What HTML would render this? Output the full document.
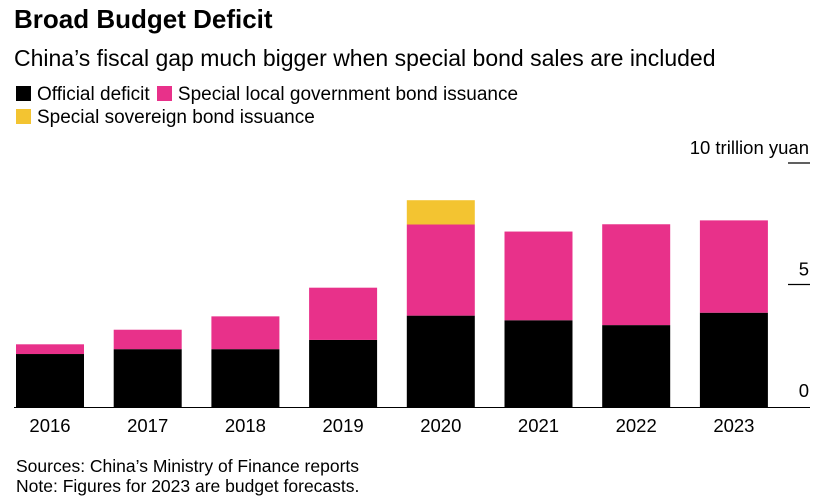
<!DOCTYPE html>
<html><head><meta charset="utf-8"><style>
body{margin:0;background:#fff;width:829px;height:503px;overflow:hidden;font-family:"Liberation Sans",Arial,sans-serif;color:#000}
.t{position:absolute;white-space:nowrap}
.sw{display:inline-block;width:15px;height:15px;vertical-align:-1px;margin-right:6px}
</style></head><body>
<div class="t" style="left:14px;top:4px;font-size:26px;font-weight:bold">Broad Budget Deficit</div>
<div class="t" style="left:14px;top:45px;font-size:23px">China’s fiscal gap much bigger when special bond sales are included</div>
<div class="t" style="left:16px;top:83px;font-size:19px;line-height:23px">
<span><span class="sw" style="background:#000"></span>Official deficit</span>
<span style="margin-left:2px"><span class="sw" style="background:#e8318a"></span>Special local government bond issuance</span><br>
<span><span class="sw" style="background:#f3c431"></span>Special sovereign bond issuance</span></div>
<svg width="829" height="503" style="position:absolute;left:0;top:0" id="svg"></svg>
<div class="t" style="left:16px;top:456px;font-size:17.5px;line-height:20px">Sources: China’s Ministry of Finance reports<br>Note: Figures for 2023 are budget forecasts.</div>
<script>
const years=["2016","2017","2018","2019","2020","2021","2022","2023"];
const official=[2.18,2.38,2.38,2.76,3.76,3.57,3.37,3.88];
const localBonds=[0.40,0.80,1.35,2.15,3.75,3.65,4.15,3.80];
const sovereign=[0,0,0,0,1.0,0,0,0];
const ticks=[0,5,10];
const svg=document.getElementById('svg');const NS='http://www.w3.org/2000/svg';
const y=v=>407-v*24.3;const x=i=>50+i*97.7;const bw=68;
function mk(t,a){const e=document.createElementNS(NS,t);for(const k in a)e.setAttribute(k,a[k]);svg.appendChild(e);return e;}
years.forEach((yr,i)=>{
 let b=0;
 [[official,'#000','official'],[localBonds,'#e8318a','local'],[sovereign,'#f3c431','sovereign']].forEach(([arr,c,n])=>{
  const v=arr[i];if(v<=0)return;
  const r=mk('rect',{x:x(i)-bw/2,y:y(b+v),width:bw,height:y(b)-y(b+v),fill:c});
  
  
  b+=v;});
 const t=mk('text',{x:x(i),y:432,'text-anchor':'middle','font-size':18.5,'font-family':'Liberation Sans, sans-serif'});
 t.textContent=yr;
 
 
});
const base=mk('line',{x1:14,x2:810,y1:407.5,y2:407.5,stroke:'#000','stroke-width':1});


ticks.forEach(v=>{
 if(v>0){const l=mk('line',{x1:788,x2:810,y1:y(v)-1,y2:y(v)-1,stroke:'#000','stroke-width':1.3});
 
 }
 const t=mk('text',{x:809,y:y(v)-10,'text-anchor':'end','font-size':18.5,'font-family':'Liberation Sans, sans-serif'});
 t.textContent=v===10?'10 trillion yuan':String(v);
 
 
});
</script>
</body></html>
